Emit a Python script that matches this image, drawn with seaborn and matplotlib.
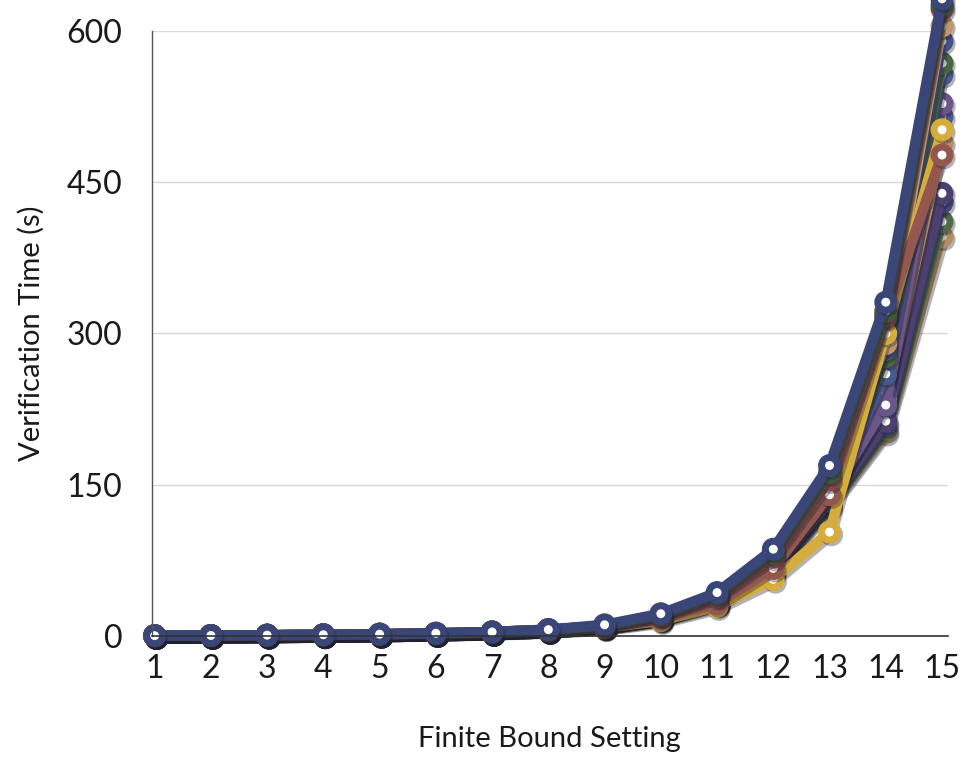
import numpy as np
import pandas as pd
import seaborn as sns
import matplotlib
matplotlib.use("Agg")
import matplotlib.pyplot as plt
import matplotlib.patheffects as pe

bounds = list(range(1, 16))

base_hi = [0.2, 0.4, 0.7, 1.1, 1.7, 2.6, 3.9, 6.2]
base_lo = [0.2, 0.3, 0.6, 1.0, 1.5, 2.3, 3.4, 5.4]

series_names = ["tan_c", "green_b", "navy_d", "darkpurple", "tan_b", "blue_c", "purple",
                "slate", "olive", "blue_b", "tan_a", "yellow", "brown_b", "maroon_a",
                "green_a", "navy_a"]
series_values = {
    "tan_c":      base_lo + [8, 16, 31, 63, 128, 202, 396],
    "green_b":    base_lo + [9, 17, 32, 64, 130, 205, 411],
    "navy_d":     base_lo + [9, 17, 32, 65, 132, 210, 430],
    "darkpurple": base_lo + [9, 17, 33, 66, 133, 213, 439],
    "tan_b":      base_lo + [9, 17, 33, 66, 134, 235, 489],
    "blue_c":     base_lo + [9, 18, 34, 67, 136, 240, 515],
    "purple":     base_lo + [9, 18, 34, 68, 138, 229, 528],
    "slate":      base_lo + [9, 18, 35, 70, 141, 260, 557],
    "olive":      base_lo + [9, 18, 35, 70, 142, 277, 568],
    "blue_b":     base_hi + [10, 19, 36, 72, 146, 285, 590],
    "tan_a":      base_hi + [10, 19, 37, 73, 148, 290, 605],
    "yellow":     [0.1, 0.3, 0.5, 0.9, 1.4, 2.1, 3.1, 4.9, 8, 15, 29, 56, 103, 300, 502],
    "brown_b":    base_lo + [9, 17, 32, 67, 140, 316, 477],
    "maroon_a":   base_hi + [10, 20, 39, 78, 155, 318, 622],
    "green_a":    base_hi + [10, 21, 41, 82, 162, 322, 626],
    "navy_a":     base_hi + [11, 22, 43, 86, 169, 331, 632],
}
series_colors = {
    "tan_c": "#b58f62", "green_b": "#4f6a45", "navy_d": "#3e4a7e", "darkpurple": "#4d4070",
    "tan_b": "#b88a5c", "blue_c": "#4a5790", "purple": "#6a5688", "slate": "#475a8c",
    "olive": "#4c6440", "blue_b": "#43528a", "tan_a": "#c2966a", "yellow": "#d6ad3c",
    "brown_b": "#93574f", "maroon_a": "#874848", "green_a": "#3f573a", "navy_a": "#3b4678",
}

x_ticks = bounds
y_ticks = [0, 150, 300, 450, 600]

rows = []
for name in series_names:
    for b, v in zip(bounds, series_values[name]):
        rows.append({"bound": b, "time": v, "series": name})
df = pd.DataFrame(rows)

sns.set_theme(style="white")
plt.rcParams["font.family"] = ["Lato", "DejaVu Sans"]

fig = plt.figure(figsize=(9.66, 7.57), dpi=100)
ax = fig.add_axes([0.157, 0.16, 0.824, 0.799])

sns.lineplot(data=df, x="bound", y="time", hue="series", hue_order=series_names,
             palette=series_colors, marker="o", markersize=11.5, linewidth=7.5,
             legend=False, ax=ax, sort=False, estimator=None)

for line in ax.lines:
    c = line.get_color()
    line.set_markeredgecolor(c)
    line.set_markerfacecolor("white")
    line.set_markeredgewidth(5)
    line.set_clip_on(False)
    line.set_solid_joinstyle("round")
    line.set_path_effects([pe.SimpleLineShadow(offset=(1.5, -2), alpha=0.35, shadow_color="#202030"),
                           pe.Normal()])

ax.set_xlim(0.947, 15.1)
ax.set_ylim(0, 600)
ax.set_xticks(x_ticks)
ax.set_xticklabels([str(t) for t in x_ticks])
ax.set_yticks(y_ticks)
ax.set_yticklabels([str(t) for t in y_ticks])
ax.yaxis.grid(True, color="#d8d8d8", linewidth=1)
ax.xaxis.grid(False)
ax.set_axisbelow(True)
for s in ["top", "right"]:
    ax.spines[s].set_visible(False)
ax.spines["left"].set_color("#555555")
ax.spines["left"].set_linewidth(1)
ax.spines["bottom"].set_color("#333333")
ax.spines["bottom"].set_linewidth(1.2)
ax.tick_params(axis="y", length=0, pad=21, labelsize=23, labelcolor="#1a1a1a")
ax.tick_params(axis="x", length=0, pad=13, labelsize=23, labelcolor="#1a1a1a")
ax.set_xlabel("Finite Bound Setting", fontsize=21, color="#1a1a1a", labelpad=30)
ax.set_ylabel("Verification Time (s)", fontsize=21, color="#1a1a1a", labelpad=16)

fig.savefig("out.png", dpi=100, facecolor="white")
